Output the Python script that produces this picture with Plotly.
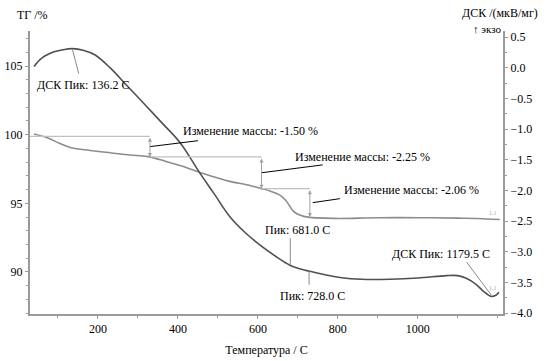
import plotly.graph_objects as go

# ---- data ----
tg_T = [40, 75, 105, 133, 180, 233, 280, 325, 370, 405, 455, 500, 530, 580, 609, 630, 655, 670, 688, 700, 715, 730, 770, 805, 900, 1005, 1100, 1150, 1205]
tg_val = [100.05, 99.76, 99.35, 99.05, 98.85, 98.67, 98.52, 98.40, 98.05, 97.75, 97.25, 96.85, 96.6, 96.3, 96.07, 95.9, 95.6, 95.2, 94.45, 94.2, 94.05, 93.98, 93.92, 93.9, 93.95, 93.95, 93.92, 93.9, 93.82]

dsc_T = [40, 55, 67, 90, 110, 136, 165, 192, 230, 275, 320, 357, 405, 455, 490, 530, 570, 613, 650, 680, 700, 730, 770, 805, 860, 930, 1000, 1072, 1100, 1120, 1147, 1165, 1184, 1195, 1203]
dsc_val = [0.02, 0.13, 0.19, 0.26, 0.29, 0.31, 0.28, 0.21, 0.0, -0.31, -0.62, -0.88, -1.22, -1.72, -2.05, -2.43, -2.70, -2.93, -3.10, -3.22, -3.27, -3.32, -3.38, -3.42, -3.45, -3.45, -3.43, -3.39, -3.39, -3.43, -3.54, -3.65, -3.73, -3.71, -3.66]

step_T = [330, 609, 730]
step_levels = [99.88, 98.38, 96.07, 94.0]
step_labels = ["Изменение массы: -1.50 %", "Изменение массы: -2.25 %", "Изменение массы: -2.06 %"]
step_text_pos = [(407, 100.3), (687, 98.4), (810, 96.0)]
step_leader = [((330, 99.13), (450, 99.56)), ((610, 97.23), (762, 97.8)), ((737, 95.05), (805, 95.34))]

peak_labels = ["ДСК Пик: 136.2 С", "Пик: 681.0 С", "Пик: 728.0 С", "ДСК Пик: 1179.5 С"]
peak_T = [136.2, 681.0, 728.0, 1179.5]
peak_text_pos = [(42, -0.28), (612, -2.65), (650, -3.72), (930, -3.04)]
peak_leader = [((136, 0.30), (152, -0.10)), ((681, -2.78), (681, -3.22)), ((728, -3.30), (728, -3.54)), ((1122, -3.17), (1184, -3.71))]

x_range = [30, 1213]
y_range = [86.94, 107.55]
y2_range = [-4.016, 0.598]

FONT = "Liberation Serif, Times New Roman, DejaVu Serif, serif"
AXC = "#9a9a9a"

fig = go.Figure()
fig.add_trace(go.Scatter(x=tg_T, y=tg_val, mode="lines", line=dict(color="#8c8c8c", width=1.6, shape="spline"),
                         yaxis="y", hoverinfo="skip", showlegend=False))
fig.add_trace(go.Scatter(x=dsc_T, y=dsc_val, mode="lines", line=dict(color="#505050", width=1.6, shape="spline"),
                         yaxis="y2", hoverinfo="skip", showlegend=False))

shapes = []
annotations = []
prev_T = x_range[0]
for i, T in enumerate(step_T):
    top = step_levels[i]
    bot = step_levels[i + 1]
    shapes.append(dict(type="line", xref="x", yref="y", x0=prev_T, x1=T, y0=top, y1=top,
                       line=dict(color="#c0c0c0", width=1.3)))
    annotations.append(dict(xref="x", yref="y", axref="x", ayref="y", x=T, y=bot, ax=T, ay=top,
                            text="", showarrow=True, arrowside="end+start", arrowhead=2,
                            arrowsize=0.8, arrowwidth=1, arrowcolor="#a0a0a0"))
    (lx0, ly0), (lx1, ly1) = step_leader[i]
    shapes.append(dict(type="line", xref="x", yref="y", x0=lx0, y0=ly0, x1=lx1, y1=ly1,
                       line=dict(color="#000000", width=1)))
    tx, ty = step_text_pos[i]
    annotations.append(dict(xref="x", yref="y", x=tx, y=ty, text=step_labels[i], showarrow=False,
                            xanchor="left", yanchor="middle", font=dict(family=FONT, size=12, color="#000")))
    prev_T = T

for i, lab in enumerate(peak_labels):
    (lx0, ly0), (lx1, ly1) = peak_leader[i]
    shapes.append(dict(type="line", xref="x", yref="y2", x0=lx0, y0=ly0, x1=lx1, y1=ly1,
                       line=dict(color="#8a8a8a", width=1)))
    tx, ty = peak_text_pos[i]
    annotations.append(dict(xref="x", yref="y2", x=tx, y=ty, text=lab, showarrow=False,
                            xanchor="left", yanchor="middle", font=dict(family=FONT, size=12, color="#000")))

annotations.append(dict(xref="x", yref="y", x=1187, y=94.32, text="1,1", showarrow=False,
                        font=dict(family=FONT, size=6, color="#aaaaaa")))
annotations.append(dict(xref="x", yref="y2", x=1187, y=-3.59, text="1,1", showarrow=False,
                        font=dict(family=FONT, size=6, color="#aaaaaa")))

annotations.append(dict(xref="paper", yref="paper", x=-0.032, y=1.057, xanchor="left", yanchor="middle",
                        text="ТГ /%", showarrow=False, font=dict(family=FONT, size=12, color="#000")))
annotations.append(dict(xref="paper", yref="paper", x=1.078, y=1.064, xanchor="right", yanchor="middle",
                        text="ДСК /(мкВ/мг)", showarrow=False, font=dict(family=FONT, size=12, color="#000")))
annotations.append(dict(xref="paper", yref="paper", x=1.0, y=1.007, xanchor="right", yanchor="middle",
                        text="↑ экзо", showarrow=False, font=dict(family=FONT, size=11, color="#000")))

fig.update_layout(
    width=548, height=361,
    margin=dict(l=30, r=45, t=31, b=47),
    paper_bgcolor="white", plot_bgcolor="white",
    font=dict(family=FONT, size=12, color="#000"),
    shapes=shapes, annotations=annotations,
    xaxis=dict(range=x_range, showgrid=False, zeroline=False, automargin=False,
               showline=True, linecolor=AXC, linewidth=2, ticks="outside", ticklen=3, tickcolor=AXC,
               minor=dict(dtick=100, tick0=0, ticks="outside", ticklen=2, tickcolor=AXC),
               tickvals=[200, 400, 600, 800, 1000],
               title=dict(text="Температура / С", font=dict(family=FONT, size=12), standoff=10)),
    yaxis=dict(range=y_range, tick0=0, dtick=5, showgrid=False, zeroline=False, automargin=False,
               showline=True, linecolor=AXC, linewidth=2, ticks="outside", ticklen=3, tickcolor=AXC,
               minor=dict(dtick=1, tick0=0, ticks="outside", ticklen=2, tickcolor=AXC)),
    yaxis2=dict(range=y2_range, overlaying="y", side="right", tick0=0, dtick=0.5, tickformat=".1f",
                showgrid=False, zeroline=False, automargin=False,
                showline=True, linecolor=AXC, linewidth=2, ticks="outside", ticklen=3, tickcolor=AXC,
                minor=dict(dtick=0.25, tick0=0, ticks="outside", ticklen=2, tickcolor=AXC)),
)

fig.write_html("out.html", config={"displayModeBar": False},
               post_script="document.body.style.margin='0px';document.body.style.padding='0px';")
